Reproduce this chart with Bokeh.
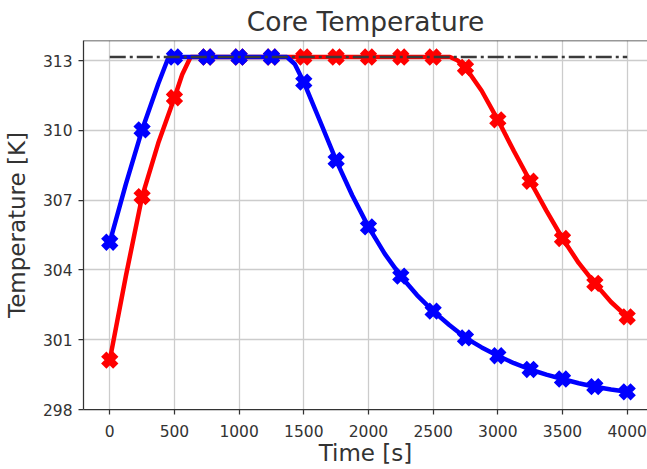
from bokeh.plotting import figure
from bokeh.models import Range1d, FixedTicker, Span
from bokeh.embed import file_html
from bokeh.resources import INLINE

# ---- data ----
marker_time = [0, 250, 500, 750, 1000, 1250, 1500, 1750, 2000, 2250, 2500,
               2750, 3000, 3250, 3500, 3750, 4000]
blue_markers = [305.19, 310.02, 313.15, 313.15, 313.15, 313.15, 312.07, 308.71,
                305.85, 303.73, 302.23, 301.08, 300.31, 299.72, 299.31, 298.98, 298.76]
red_markers = [300.12, 307.15, 311.40, 313.15, 313.15, 313.15, 313.15, 313.15,
               313.15, 313.15, 313.15, 312.70, 310.45, 307.81, 305.35, 303.42, 301.98]

# denser curve readings
blue_curve_time = [0, 125, 250, 375, 455, 500, 1000, 1370, 1430, 1500, 1625, 1750,
                   1875, 2000, 2125, 2250, 2375, 2500, 2625, 2750, 2875, 3000,
                   3125, 3250, 3375, 3500, 3625, 3750, 3875, 4000]
blue_curve = [305.19, 307.7, 310.02, 312.0, 313.15, 313.15, 313.15, 313.15, 312.85,
              312.07, 310.40, 308.71, 307.20, 305.85, 304.70, 303.73, 302.92, 302.23,
              301.63, 301.08, 300.67, 300.31, 299.99, 299.72, 299.50, 299.31, 299.13,
              298.98, 298.86, 298.76]
red_curve_time = [0, 125, 250, 375, 500, 560, 625, 1000, 2000, 2630, 2690, 2750,
                  2875, 3000, 3125, 3250, 3375, 3500, 3625, 3750, 3875, 4000]
red_curve = [300.12, 303.75, 307.15, 309.45, 311.40, 312.4, 313.15, 313.15, 313.15,
             313.15, 313.0, 312.70, 311.70, 310.45, 309.10, 307.81, 306.55, 305.35,
             304.30, 303.42, 302.62, 301.98]

setpoint_time = [0, 4000]
setpoint = [313.15, 313.15]

x_ticks = [0, 500, 1000, 1500, 2000, 2500, 3000, 3500, 4000]
y_ticks = [298, 301, 304, 307, 310, 313]

TEXT = "#333333"
FONT = "DejaVu Sans"
Y_TOP = 313.86

p = figure(width=647, height=469, output_backend="svg", toolbar_location=None,
           x_range=Range1d(-203, 4157), y_range=Range1d(298, Y_TOP),
           min_border_left=83, min_border_right=0, min_border_top=40,
           min_border_bottom=60, title="Core Temperature")

p.title.text_font = FONT
p.title.text_font_size = "26.5px"
p.title.text_font_style = "normal"
p.title.text_color = TEXT
p.title.align = "center"
p.title.offset = 2
p.title.standoff = 7
p.title.text_line_height = 1.0

p.outline_line_color = None
p.background_fill_color = "white"
p.border_fill_color = "white"

p.xaxis.ticker = FixedTicker(ticks=x_ticks)
p.yaxis.ticker = FixedTicker(ticks=y_ticks)
for ax in (p.xaxis[0], p.yaxis[0]):
    ax.axis_line_color = TEXT
    ax.axis_line_width = 1.25
    ax.major_tick_line_color = TEXT
    ax.major_tick_line_width = 1.25
    ax.major_tick_out = 5
    ax.major_tick_in = 0
    ax.minor_tick_line_color = None
    ax.major_label_text_font = FONT
    ax.major_label_text_font_size = "15.5px"
    ax.major_label_text_color = TEXT
    ax.major_label_text_line_height = 1.0
    ax.axis_label_text_font = FONT
    ax.axis_label_text_font_size = "23px"
    ax.axis_label_text_font_style = "normal"
    ax.axis_label_text_color = TEXT
    ax.axis_label_text_line_height = 1.0
p.xaxis.axis_label = "Time [s]"
p.yaxis.axis_label = "Temperature [K]"
p.xaxis.major_label_standoff = 10
p.xaxis.axis_label_standoff = 0
p.yaxis.major_label_standoff = 6
p.yaxis.axis_label_standoff = 10

p.xgrid.grid_line_color = "#cccccc"
p.ygrid.grid_line_color = "#cccccc"
p.xgrid.grid_line_width = 1.3
p.ygrid.grid_line_width = 1.3

top_spine = Span(location=Y_TOP, dimension="width", line_color=TEXT, line_width=1.25)
p.add_layout(top_spine)

# red series
p.line(red_curve_time, red_curve, line_color="#ff0000", line_width=4.5)
p.scatter(marker_time, red_markers, marker="x", size=17, line_color="#ff0000",
          line_width=7.5)
# blue series
p.line(blue_curve_time, blue_curve, line_color="#0000ff", line_width=4.5)
p.scatter(marker_time, blue_markers, marker="x", size=17, line_color="#0000ff",
          line_width=7.5)
# setpoint
p.line(setpoint_time, setpoint, line_color="#3a3a3a", line_width=2.5,
       line_dash="16 4 3 4")

open("out.html", "w").write(file_html(p, INLINE))
